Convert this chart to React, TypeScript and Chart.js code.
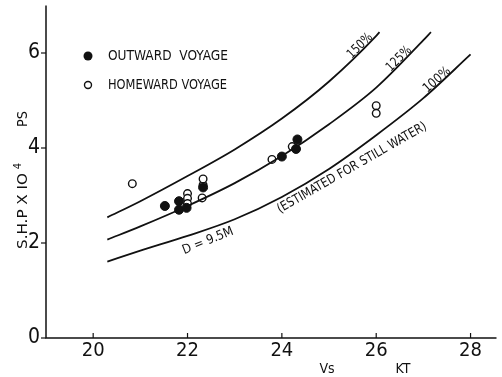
import React, { useEffect, useRef } from "react";
import { Chart, registerables } from "chart.js";

Chart.register(...registerables);

// Scale ranges and tick labels
const xMin = 19;
const xMax = 28.55;
const yMin = 0;
const yMax = 7;
const xTicks = [20, 22, 24, 26, 28];
const yTicks = [0, 2, 4, 6];

// Power curves (S.H.P x 10^4 PS vs speed Vs, kt)
const speed100 = [20.3, 21, 22, 23, 24, 25, 26, 27, 28];
const shp100 = [1.61, 1.84, 2.15, 2.5, 2.97, 3.56, 4.27, 5.05, 5.97];
const speed125 = [20.3, 21, 22, 23, 24, 25, 26, 27, 27.16];
const shp125 = [2.07, 2.35, 2.78, 3.26, 3.83, 4.5, 5.27, 6.27, 6.44];
const speed150 = [20.3, 21, 22, 23, 24, 25, 26, 26.07];
const shp150 = [2.54, 2.88, 3.41, 3.97, 4.62, 5.4, 6.36, 6.44];

// Measured points
const outwardSpeed = [21.52, 21.82, 21.82, 21.98, 22.33, 24.0, 24.3, 24.33];
const outwardShp = [2.78, 2.88, 2.7, 2.74, 3.17, 3.82, 3.98, 4.18];
const homewardSpeed = [20.83, 22.0, 22.0, 22.0, 22.31, 22.33, 22.33, 23.79, 24.22, 26.0, 26.0];
const homewardShp = [3.25, 3.04, 2.94, 2.83, 2.95, 3.22, 3.35, 3.76, 4.03, 4.89, 4.73];

const FONT = '"Liberation Sans Narrow", "DejaVu Sans Condensed", sans-serif';

const zip = (xs: number[], ys: number[]) => xs.map((x, i) => ({ x, y: ys[i] }));

function drawFit(ctx: CanvasRenderingContext2D, text: string, x: number, y: number, size: number, width: number, align: "left" | "center" | "right", rot = 0) {
  ctx.save();
  ctx.font = `${size}px ${FONT}`;
  ctx.textBaseline = "middle";
  ctx.textAlign = "left";
  const w = ctx.measureText(text).width;
  const sx = width > 0 ? width / w : 1;
  const realW = w * sx;
  ctx.translate(x, y);
  ctx.rotate(rot);
  let ox = 0;
  if (align === "center") ox = -realW / 2;
  if (align === "right") ox = -realW;
  ctx.scale(sx, 1);
  ctx.fillText(text, ox / sx, 0);
  ctx.restore();
}

const decorPlugin = {
  id: "decor",
  afterDraw(chart: any) {
    const ctx: CanvasRenderingContext2D = chart.ctx;
    const xs = chart.scales.x;
    const ys = chart.scales.y;
    const { left, right, top, bottom } = chart.chartArea;
    ctx.save();
    ctx.strokeStyle = "#111";
    ctx.fillStyle = "#111";
    ctx.lineWidth = 1.5;
    // axes
    ctx.beginPath();
    ctx.moveTo(left, top);
    ctx.lineTo(left, bottom);
    ctx.lineTo(right, bottom);
    ctx.stroke();
    // ticks
    ctx.lineWidth = 1.2;
    xTicks.forEach((t) => {
      const px = xs.getPixelForValue(t);
      ctx.beginPath();
      ctx.moveTo(px, bottom);
      ctx.lineTo(px, bottom - 5);
      ctx.stroke();
      drawFit(ctx, String(t), px, bottom + 13, 20, 0, "center");
    });
    yTicks.forEach((t) => {
      const py = ys.getPixelForValue(t);
      ctx.beginPath();
      ctx.moveTo(left, py);
      ctx.lineTo(left - 5, py);
      ctx.stroke();
      drawFit(ctx, String(t), left - 6, py, 21, 0, "right");
    });
    // axis titles
    drawFit(ctx, "Vs", 327, 369, 14, 0, "center");
    drawFit(ctx, "KT", 403, 369, 14, 0, "center");
    drawFit(ctx, "S.H.P X IO", 23, 211, 14, 76, "center", -Math.PI / 2);
    drawFit(ctx, "4", 18, 166, 11, 0, "center", -Math.PI / 2);
    drawFit(ctx, "PS", 23, 119, 14, 16, "center", -Math.PI / 2);
    // legend
    ctx.beginPath();
    ctx.arc(88, 56, 4.5, 0, Math.PI * 2);
    ctx.fill();
    ctx.beginPath();
    ctx.lineWidth = 1.4;
    ctx.arc(88, 85, 3.5, 0, Math.PI * 2);
    ctx.stroke();
    drawFit(ctx, "OUTWARD  VOYAGE", 108, 56, 14, 120, "left");
    drawFit(ctx, "HOMEWARD VOYAGE", 108, 85, 14, 119, "left");
    // curve labels
    drawFit(ctx, "150%", 360, 46, 13, 30, "center", -0.78);
    drawFit(ctx, "125%", 399, 59, 13, 30, "center", -0.78);
    drawFit(ctx, "100%", 437, 80, 13, 32, "center", -0.72);
    drawFit(ctx, "D = 9.5M", 208, 241, 13, 54, "center", -0.38);
    drawFit(ctx, "(ESTIMATED FOR STILL WATER)", 352, 168, 13, 170, "center", -0.52);
    ctx.restore();
  },
};

export default function App() {
  const ref = useRef<HTMLCanvasElement>(null);
  useEffect(() => {
    document.body.style.margin = "0";
    const canvas = ref.current!;
    const lineStyle = {
      showLine: true,
      pointRadius: 0,
      borderColor: "#111",
      borderWidth: 1.8,
      cubicInterpolationMode: "monotone" as const,
      fill: false,
    };
    const chart = new Chart(canvas, {
      type: "scatter",
      data: {
        datasets: [
          { label: "100%", data: zip(speed100, shp100), ...lineStyle },
          { label: "125%", data: zip(speed125, shp125), ...lineStyle },
          { label: "150%", data: zip(speed150, shp150), ...lineStyle },
          {
            label: "OUTWARD VOYAGE",
            data: zip(outwardSpeed, outwardShp),
            pointRadius: 4.5,
            pointBackgroundColor: "#111",
            pointBorderColor: "#111",
            pointBorderWidth: 1,
          },
          {
            label: "HOMEWARD VOYAGE",
            data: zip(homewardSpeed, homewardShp),
            pointRadius: 3.8,
            pointBackgroundColor: "#fff",
            pointBorderColor: "#111",
            pointBorderWidth: 1.4,
          },
        ],
      },
      options: {
        responsive: false,
        animation: false,
        layout: { padding: { left: 46, right: 4, top: 5, bottom: 39 } },
        plugins: { legend: { display: false }, tooltip: { enabled: false } },
        scales: {
          x: { type: "linear", min: xMin, max: xMax, display: false },
          y: { type: "linear", min: yMin, max: yMax, display: false },
        },
      },
      plugins: [decorPlugin],
    });
    return () => chart.destroy();
  }, []);
  return (
    <div style={{ width: 502, height: 377, background: "#fff" }}>
      <canvas ref={ref} width={502} height={377} />
    </div>
  );
}
